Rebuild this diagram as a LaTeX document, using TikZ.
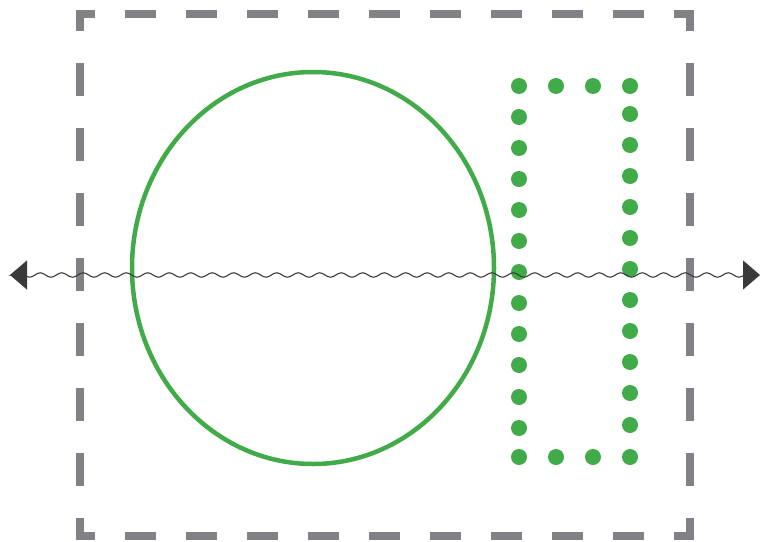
\documentclass[tikz,border=0pt]{standalone}
\usepackage{tikz}
\usetikzlibrary{arrows.meta, decorations.pathmorphing}

\definecolor{framegray}{RGB}{130,130,134}
\definecolor{leafgreen}{RGB}{65,171,73}
\definecolor{inkgray}{RGB}{58,58,58}

\begin{document}
\begin{tikzpicture}[x=1pt,y=-1pt,
  hside/.style={draw=framegray, line width=8pt, dash pattern=on 31pt off 30pt, dash phase=12pt},
  vside/.style={draw=framegray, line width=8pt, dash pattern=on 33pt off 32pt, dash phase=12pt},
  ringline/.style={draw=leafgreen, line width=4.5pt},
  dotmark/.style={fill=leafgreen},
  wavearrow/.style={draw=inkgray, line width=1.1pt,
    {Triangle[length=17pt,width=29pt]}-{Triangle[length=17pt,width=29pt]},
    decorate, decoration={snake, segment length=21.5pt, amplitude=2.2pt, pre length=2pt, post length=2pt}}]
\useasboundingbox (0,0) rectangle (760,541);

% dashed frame
\draw[hside] (76,14) -- (694,14);
\draw[hside] (76,536) -- (694,536);
\draw[vside] (80,10) -- (80,540);
\draw[vside] (690,10) -- (690,540);

% ring
\draw[ringline] (313,268) ellipse [x radius=181pt, y radius=196pt];

% dotted box
\foreach \y in {86,117,148,179,210,241,272,303,334,365,397,428,457}
  \fill[dotmark] (519,\y) circle (8pt);
\foreach \y in {86,114,145,176,207,238,269,300,331,362,393,425,457}
  \fill[dotmark] (630,\y) circle (8pt);
\foreach \x in {556,593} {
  \fill[dotmark] (\x,86) circle (8pt);
  \fill[dotmark] (\x,457) circle (8pt);
}

% wavy axis
\coordinate (wleft) at (10,275);
\coordinate (wright) at (760,275);
\draw[wavearrow] (wleft) -- (wright);
\end{tikzpicture}
\end{document}
